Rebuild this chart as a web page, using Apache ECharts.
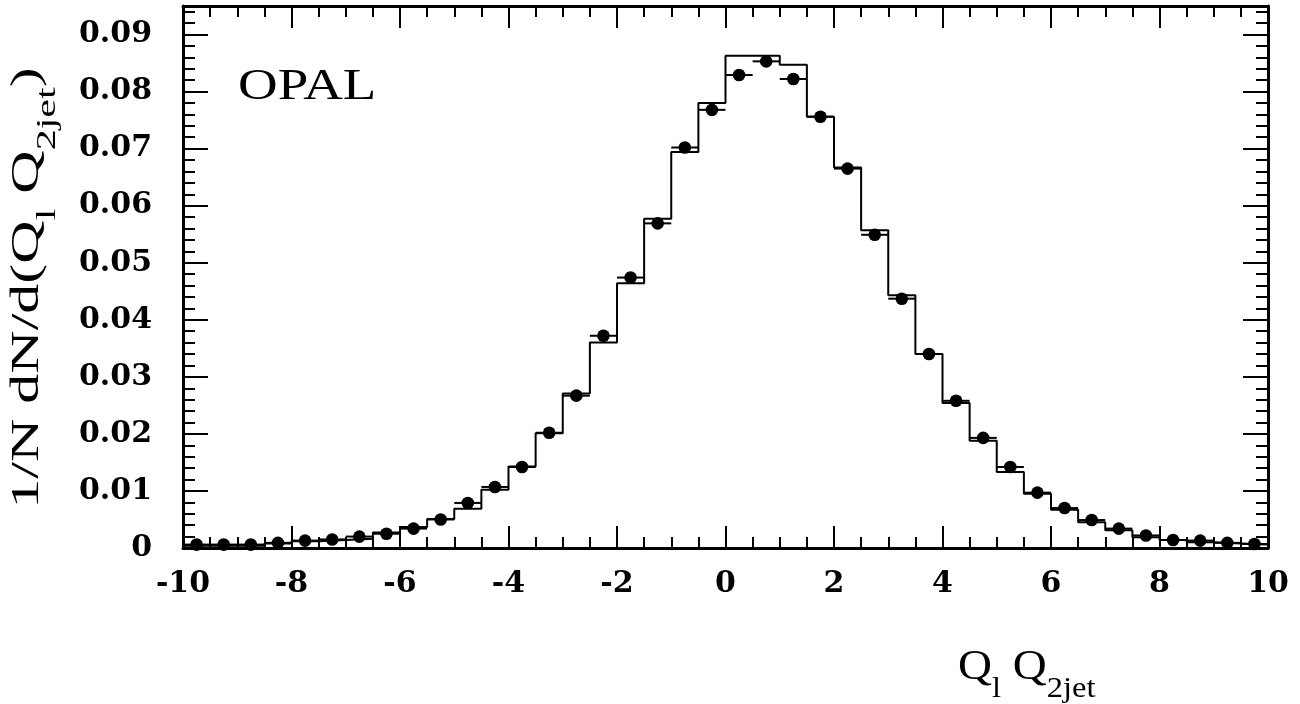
<!DOCTYPE html>
<html>
<head>
<meta charset="utf-8">
<script src="https://cdn.jsdelivr.net/npm/echarts@6/dist/echarts.min.js"></script>
<style>
html,body{margin:0;padding:0;background:#fff;}
#chart{width:1300px;height:704px;}
</style>
</head>
<body>
<div id="chart"></div>
<script>
// ---- data ----
var binCenters = [-9.75,-9.25,-8.75,-8.25,-7.75,-7.25,-6.75,-6.25,-5.75,-5.25,
  -4.75,-4.25,-3.75,-3.25,-2.75,-2.25,-1.75,-1.25,-0.75,-0.25,
  0.25,0.75,1.25,1.75,2.25,2.75,3.25,3.75,4.25,4.75,
  5.25,5.75,6.25,6.75,7.25,7.75,8.25,8.75,9.25,9.75];
var binHalfWidth = 0.25;
var mcValues = [0.0004,0.0004,0.0004,0.0008,0.0012,0.0014,0.0016,0.0027,0.0037,0.0051,
  0.0069,0.0102,0.0143,0.0201,0.0271,0.0360,0.0464,0.0577,0.0694,0.0780,
  0.0863,0.0863,0.0847,0.0756,0.0667,0.0557,0.0443,0.0340,0.0254,0.0188,
  0.0133,0.0095,0.0067,0.0045,0.0031,0.0019,0.0014,0.0010,0.0008,0.0006];
var dataValues = [0.0006,0.0006,0.0006,0.0009,0.0013,0.0015,0.0020,0.0025,0.0034,0.0050,
  0.0079,0.0107,0.0142,0.0202,0.0267,0.0372,0.0474,0.0569,0.0702,0.0768,
  0.0829,0.0853,0.0822,0.0756,0.0665,0.0549,0.0437,0.0340,0.0258,0.0193,
  0.0142,0.0097,0.0070,0.0049,0.0034,0.0022,0.0014,0.0013,0.0009,0.0007];
var xTickLabels = ['-10','-8','-6','-4','-2','0','2','4','6','8','10'];
var yTickLabels = ['0','0.01','0.02','0.03','0.04','0.05','0.06','0.07','0.08','0.09'];
var xRange = [-10, 10];
var yRange = [0, 0.095];

// ---- build series data ----
var histData = [];
for (var i = 0; i < binCenters.length; i++) {
  histData.push([binCenters[i] - binHalfWidth, mcValues[i]]);
}
histData.push([binCenters[binCenters.length-1] + binHalfWidth, mcValues[mcValues.length-1]]);
var pointData = binCenters.map(function (c, i) { return [c, dataValues[i]]; });

var chart = echarts.init(document.getElementById('chart'), null, {renderer: 'canvas'});
var tickFont = {fontFamily: 'DejaVu Serif', fontWeight: 'bold', fontSize: 30, color: '#000'};
var lineCol = '#000';

function xAxisCfg(pos, showLabel) {
  return {
    type: 'value', position: pos, min: xRange[0], max: xRange[1], interval: 2,
    axisLine: {show: true, onZero: false, lineStyle: {color: lineCol, width: 3}},
    axisTick: {show: true, inside: true, length: 22, lineStyle: {color: lineCol, width: 2}},
    minorTick: {show: true, splitNumber: 4, length: 11, lineStyle: {color: lineCol, width: 2}},
    splitLine: {show: false}, minorSplitLine: {show: false},
    axisLabel: Object.assign({show: showLabel, margin: 21,
      formatter: function (v) { var k = Math.round((v - xRange[0]) / 2); return xTickLabels[k]; }}, tickFont)
  };
}
function yAxisCfg(pos, interval, len, showLine, showLabel) {
  return {
    type: 'value', position: pos, min: yRange[0], max: yRange[1], interval: interval,
    axisLine: {show: showLine, onZero: false, lineStyle: {color: lineCol, width: 3}},
    axisTick: {show: true, inside: true, length: len, lineStyle: {color: lineCol, width: 2}},
    splitLine: {show: false},
    axisLabel: Object.assign({show: showLabel, margin: 31, showMaxLabel: false,
      formatter: function (v) { var k = Math.round(v / 0.01); return Math.abs(v - k * 0.01) < 1e-9 ? yTickLabels[k] : ''; }}, tickFont)
  };
}

var option = {
  animation: false,
  backgroundColor: '#fff',
  grid: {left: 183, right: 32, top: 6, bottom: 156, containLabel: false},
  xAxis: [xAxisCfg('bottom', true), xAxisCfg('top', false)],
  yAxis: [
    yAxisCfg('left', 0.01, 25, true, true),
    yAxisCfg('right', 0.01, 25, true, false),
    yAxisCfg('left', 0.002, 12, false, false),
    yAxisCfg('right', 0.002, 12, false, false)
  ],
  series: [
    {
      type: 'line', name: 'MC', step: 'end', data: histData, symbol: 'none',
      xAxisIndex: 0, yAxisIndex: 0,
      lineStyle: {color: '#000', width: 2}, z: 2
    },
    {
      type: 'custom', name: 'Data', data: pointData, xAxisIndex: 0, yAxisIndex: 0, z: 3,
      renderItem: function (params, api) {
        var x = api.value(0), y = api.value(1);
        var p = api.coord([x, y]);
        var l = api.coord([x - binHalfWidth, y]);
        var r = api.coord([x + binHalfWidth, y]);
        return {type: 'group', children: [
          {type: 'line', shape: {x1: l[0], y1: l[1], x2: r[0], y2: r[1]}, style: {stroke: '#000', lineWidth: 2}},
          {type: 'circle', shape: {cx: p[0], cy: p[1], r: 6.3}, style: {fill: '#000'}}
        ]};
      }
    }
  ],
  graphic: [
    {
      type: 'text', x: 238, y: 87, scaleX: 1.22,
      style: {text: 'OPAL', x: 0, y: 0, fontFamily: 'Liberation Serif', fontSize: 45, fill: '#000',
        align: 'left', verticalAlign: 'middle'}
    },
    {
      type: 'text', x: 958, y: 647, scaleX: 1.12,
      style: {
        text: '{m|Q}{s|l}{m| Q}{s|2jet}', x: 0, y: 0, align: 'left', verticalAlign: 'top',
        rich: {
          m: {fontFamily: 'Liberation Serif', fontSize: 42, lineHeight: 42, verticalAlign: 'top', fill: '#000'},
          s: {fontFamily: 'Liberation Serif', fontSize: 29, lineHeight: 29, verticalAlign: 'top', padding: [28, 0, 0, 0], fill: '#000'}
        }
      }
    },
    {
      type: 'text', x: 7, y: 288, rotation: Math.PI / 2, scaleX: 1.5,
      style: {
        text: '{m|1/N dN/d(Q}{s|l}{m| Q}{s|2jet}{m|)}', x: 0, y: 0, align: 'center', verticalAlign: 'top',
        rich: {
          m: {fontFamily: 'Liberation Serif', fontSize: 40, lineHeight: 40, verticalAlign: 'top', fill: '#000'},
          s: {fontFamily: 'Liberation Serif', fontSize: 28, lineHeight: 28, verticalAlign: 'top', padding: [27, 0, 0, 0], fill: '#000'}
        }
      }
    }
  ]
};
chart.setOption(option);
</script>
</body>
</html>
